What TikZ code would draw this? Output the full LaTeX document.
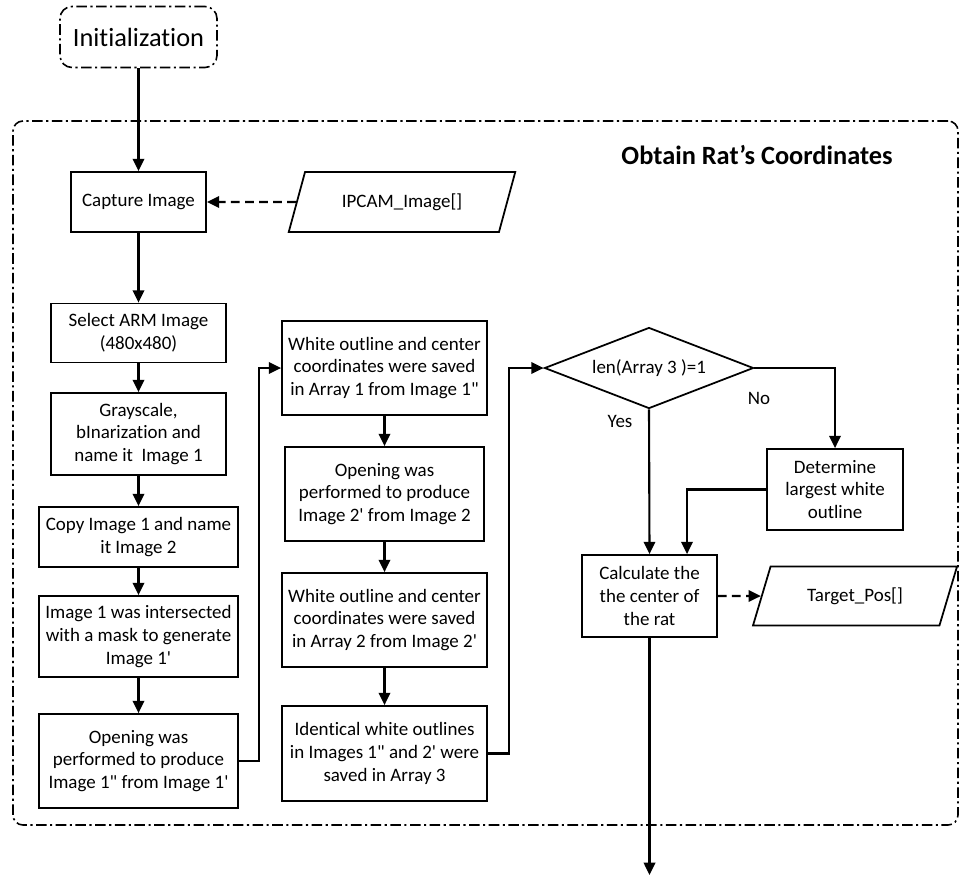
\documentclass[tikz,border=0pt]{standalone}
\usepackage{fontspec}
\setmainfont{Carlito}[Ligatures={TeXOff,NoCommon}]
\usetikzlibrary{shapes.geometric,arrows.meta}

\tikzset{
    txt/.style={font=\fontsize{10.8}{13}\selectfont},
    proc/.style={rectangle,draw,line width=1pt,align=center,inner sep=2pt,txt},
    io/.style={trapezium,trapezium left angle=66,trapezium right angle=114,
               trapezium stretches=true,draw,line width=1pt,inner sep=2pt,txt},
    decision/.style={diamond,aspect=2.58,draw,line width=1pt,inner sep=0pt,txt},
    dashdot/.style={line width=0.9pt,dash pattern=on 6pt off 2pt on 1.2pt off 2pt},
    term/.style={rectangle,draw,dashdot,rounded corners=2.4mm,
                 font=\fontsize{15}{18}\selectfont},
    groupbox/.style={rectangle,draw,dashdot,rounded corners=2mm},
    arr/.style={-{Triangle[length=7pt,width=6.5pt]},line width=1.2pt},
    dasharr/.style={arr,dash pattern=on 5pt off 3pt}
}

\begin{document}
\begin{tikzpicture}[x=0.2mm,y=-0.2mm]
\useasboundingbox (0,0) rectangle (963,877);

\node[groupbox,minimum width=189mm,minimum height=140.8mm] (frame) at (485.5,473) {};
\node[font=\bfseries\fontsize{15}{18}\selectfont] (title) at (757,155) {Obtain Rat’s Coordinates};
\node[term,minimum width=31.4mm,minimum height=12.2mm] (init) at (138.5,37) {Initialization};

\begin{scope}[every node/.style={proc}]
    \node[minimum width=27mm,minimum height=12mm] (capture) at (138.5,202) {Capture Image};
    \node[minimum width=35mm,minimum height=11.8mm] (select) at (138.5,333) {Select ARM Image\\(480x480)};
    \node[minimum width=35mm,minimum height=16.4mm] (gray) at (138.5,434) {Grayscale,\\bInarization and\\name it~ Image 1};
    \node[minimum width=39.8mm,minimum height=12mm] (copy) at (138.5,537) {Copy Image 1 and name\\it Image 2};
    \node[minimum width=39.8mm,minimum height=16.2mm] (inter) at (138.5,636.5) {Image 1 was intersected\\with a mask to generate\\Image 1'};
    \node[minimum width=39.8mm,minimum height=18.8mm] (open1) at (138.5,761) {Opening was\\performed to produce\\Image 1" from Image 1'};

    \node[minimum width=41mm,minimum height=18.8mm] (white1) at (384.5,368) {White outline and center\\coordinates were saved\\in Array 1 from Image 1"};
    \node[minimum width=39.8mm,minimum height=18.8mm] (open2) at (384.5,494) {Opening was\\performed to produce\\Image 2' from Image 2};
    \node[minimum width=41mm,minimum height=18.8mm] (white2) at (384.5,620) {White outline and center\\coordinates were saved\\in Array 2 from Image 2'};
    \node[minimum width=41mm,minimum height=19mm] (ident) at (384.5,753.5) {Identical white outlines\\in Images 1" and 2' were\\saved in Array 3};

    \node[minimum width=27.2mm,minimum height=16.2mm] (largest) at (835,489.5) {Determine\\largest white\\outline};
    \node[minimum width=27mm,minimum height=16.4mm] (calc) at (649.5,596) {Calculate the\\the center of\\the rat};
\end{scope}

\node[io,minimum width=45.4mm,minimum height=12mm] (ipcam) at (402,202) {IPCAM\_Image[]};
\node[io,minimum width=41mm,minimum height=11.8mm] (target) at (855,596) {Target\_Pos[]};
\node[decision,minimum width=41.8mm,minimum height=16.2mm] (cond) at (649,368) {len(Array 3 )=1};

\node[txt] (yes) at (620,421) {Yes};
\node[txt] (no) at (759,398) {No};
\coordinate (out) at (649.5,875);

\draw[arr] (init) -- (capture);
\draw[dasharr] (ipcam) -- (capture);
\draw[arr] (capture) -- (select);
\draw[arr] (select) -- (gray);
\draw[arr] (gray) -- (copy);
\draw[arr] (copy) -- (inter);
\draw[arr] (inter) -- (open1);
\draw[arr] (open1.east) -- ++(20,0) |- (white1.west);
\draw[arr] (white1) -- (open2);
\draw[arr] (open2) -- (white2);
\draw[arr] (white2) -- (ident);
\draw[arr] (ident.east) -- ++(21,0) |- (cond.west);
\draw[arr] (cond.east) -| (largest.north);
\draw[arr] (cond.south) -- (calc.north);
\draw[arr] (largest.west) -| ([xshift=7.5mm]calc.north);
\draw[dasharr] (calc) -- (target);
\draw[arr] (calc.south) -- (out);
\end{tikzpicture}
\end{document}
